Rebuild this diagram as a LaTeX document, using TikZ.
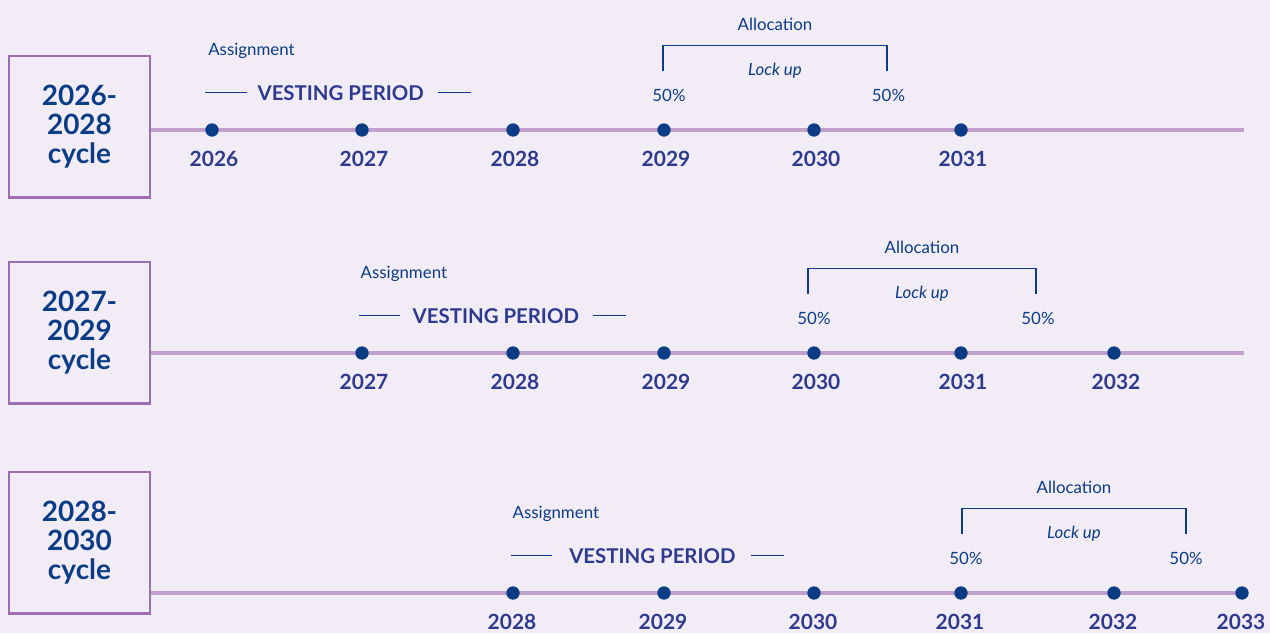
\documentclass[tikz,border=0pt]{standalone}
\usepackage{fontspec}
\setmainfont{Lato}
\usetikzlibrary{positioning,calc}
\definecolor{bgwash}{HTML}{F2ECF7}
\definecolor{frame}{HTML}{9D6DB1}
\definecolor{track}{HTML}{C2A0CC}
\definecolor{navy}{HTML}{0B3C86}
\definecolor{indigo}{HTML}{2E3A8E}
\tikzset{
  cyclebox/.style={draw=frame,line width=2.1pt,fill=bgwash,minimum width=3.525cm,
                   minimum height=3.525cm,align=center,text=navy,inner sep=0pt,
                   font=\fontsize{19.9}{20.4}\selectfont\bfseries},
  tline/.style={draw=track,line width=2.9pt},
  yeardot/.style={circle,fill=navy,inner sep=0pt,minimum size=9.5pt},
  yearlbl/.style={anchor=base,text=indigo,inner sep=0pt,font=\fontsize{14.9}{17}\selectfont\bfseries},
  note/.style={anchor=base,text=navy,inner sep=0pt,font=\fontsize{12}{14}\selectfont},
  vesting/.style={anchor=west,text=indigo,inner sep=0pt,font=\fontsize{14.5}{17}\selectfont\bfseries},
  vestline/.style={draw=navy,line width=1.1pt},
  bracket/.style={draw=navy,line width=1pt}
}
\begin{document}
\begin{tikzpicture}[x=0.025cm,y=-0.025cm]
  \useasboundingbox (0,0) rectangle (1270,633);
  \fill[bgwash] (0,0) rectangle (1270,633);

  % 2026-2028 cycle
  \node[cyclebox] (c1) at (79.5,126.5) {2026-\\2028\\cycle};
  \coordinate (end1) at (1244,130);
  \draw[tline] (c1.east |- end1) -- (end1);
  \foreach \yr/\x in {2026/212,2027/362,2028/513,2029/664,2030/814,2031/961} {
    \node[yeardot] (r1-\yr) at (\x,130) {};
    \node[yearlbl] (r1-\yr-t) at ($(r1-\yr)+(2,36.5)$) {\yr};
  }
  \node[note,anchor=base west] (asg1) at ($(r1-2026)+(-4,-75)$) {Assignment};
  \node[vesting] (v1) at ($(r1-2026)+(45.3,-37.3)$) {VESTING PERIOD};
  \draw[vestline] ($(v1.west)+(-10.6,0)$) -- ++(-41.7,0);
  \draw[vestline] ($(v1.east)+(14,0)$) -- ++(32.7,0);
  \coordinate (b1l) at ($(r1-2029)+(-1,-59.5)$);
  \coordinate (b1r) at ($(b1l)+(224,0)$);
  \draw[bracket] (b1l) -- ++(0,-25) -| (b1r);
  \node[note] (al1) at ($(b1l)!0.5!(b1r)+(0,-40.5)$) {Allocation};
  \node[note,font=\fontsize{12}{14}\selectfont\itshape] (lk1) at ($(b1l)!0.5!(b1r)+(0,4.5)$) {Lock up};
  \node[note] (p1a) at ($(b1l)+(6,30.5)$) {50\%};
  \node[note] (p1b) at ($(b1r)+(1.5,30.5)$) {50\%};

  % 2027-2029 cycle
  \node[cyclebox] (c2) at (79.5,332.5) {2027-\\2029\\cycle};
  \coordinate (end2) at (1244,353);
  \draw[tline] (c2.east |- end2) -- (end2);
  \foreach \yr/\x in {2027/362,2028/513,2029/664,2030/814,2031/961,2032/1114} {
    \node[yeardot] (r2-\yr) at (\x,353) {};
    \node[yearlbl] (r2-\yr-t) at ($(r2-\yr)+(2,36.5)$) {\yr};
  }
  \node[note,anchor=base west] (asg2) at ($(r2-2027)+(-1.6,-74.7)$) {Assignment};
  \node[vesting] (v2) at ($(r2-2027)+(50.4,-37.3)$) {VESTING PERIOD};
  \draw[vestline] ($(v2.west)+(-12,0)$) -- ++(-41.4,0);
  \draw[vestline] ($(v2.east)+(13.6,0)$) -- ++(33,0);
  \coordinate (b2l) at ($(r2-2030)+(-6,-59.5)$);
  \coordinate (b2r) at ($(b2l)+(228,0)$);
  \draw[bracket] (b2l) -- ++(0,-25) -| (b2r);
  \node[note] (al2) at ($(b2l)!0.5!(b2r)+(0,-40.5)$) {Allocation};
  \node[note,font=\fontsize{12}{14}\selectfont\itshape] (lk2) at ($(b2l)!0.5!(b2r)+(0,4.5)$) {Lock up};
  \node[note] (p2a) at ($(b2l)+(6,30.5)$) {50\%};
  \node[note] (p2b) at ($(b2r)+(2,30.5)$) {50\%};

  % 2028-2030 cycle
  \node[cyclebox] (c3) at (79.5,542.5) {2028-\\2030\\cycle};
  \coordinate (end3) at (1244,593);
  \draw[tline] (c3.east |- end3) -- (end3);
  \foreach \yr/\x in {2028/513,2029/664,2030/814,2031/961,2032/1114,2033/1242} {
    \node[yeardot] (r3-\yr) at (\x,593) {};
    \node[yearlbl] (r3-\yr-t) at ($(r3-\yr)+(-1,36.5)$) {\yr};
  }
  \node[note,anchor=base west] (asg3) at ($(r3-2028)+(-0.6,-74.7)$) {Assignment};
  \node[vesting] (v3) at ($(r3-2028)+(56,-37.3)$) {VESTING PERIOD};
  \draw[vestline] ($(v3.west)+(-16.6,0)$) -- ++(-41.7,0);
  \draw[vestline] ($(v3.east)+(15,0)$) -- ++(32.7,0);
  \coordinate (b3l) at ($(r3-2031)+(1,-59.5)$);
  \coordinate (b3r) at ($(b3l)+(224,0)$);
  \draw[bracket] (b3l) -- ++(0,-25) -| (b3r);
  \node[note] (al3) at ($(b3l)!0.5!(b3r)+(0,-40.5)$) {Allocation};
  \node[note,font=\fontsize{12}{14}\selectfont\itshape] (lk3) at ($(b3l)!0.5!(b3r)+(0,4.5)$) {Lock up};
  \node[note] (p3a) at ($(b3l)+(4,30.5)$) {50\%};
  \node[note] (p3b) at ($(b3r)+(0,30.5)$) {50\%};
\end{tikzpicture}
\end{document}
